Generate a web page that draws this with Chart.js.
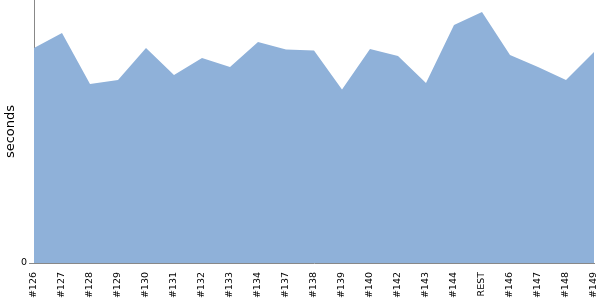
<!DOCTYPE html>
<html>
<head>
<meta charset="utf-8">
<script src="https://cdn.jsdelivr.net/npm/chart.js@4/dist/chart.umd.min.js"></script>
<style>
html,body{margin:0;padding:0;background:#fff;}
#wrap{width:600px;height:300px;position:relative;}
</style>
</head>
<body>
<div id="wrap"><canvas id="c" width="600" height="300"></canvas></div>
<script>
const categories = ["#126","#127","#128","#129","#130","#131","#132","#133","#134","#137","#138","#139","#140","#142","#143","#144","REST","#146","#147","#148","#149"];
const seconds = [204.4,218.6,170.2,174.0,204.4,178.7,194.9,186.3,210.1,202.9,202.0,164.9,203.4,196.8,171.1,226.2,238.6,197.7,186.3,174.0,200.6];
const yTicks = [0];
const yMax = 250;

new Chart(document.getElementById('c'), {
  type: 'line',
  data: {
    labels: categories,
    datasets: [{
      data: seconds,
      fill: 'origin',
      backgroundColor: 'rgb(143,177,217)',
      borderColor: 'rgb(143,177,217)',
      borderWidth: 0,
      pointRadius: 0,
      tension: 0
    }]
  },
  options: {
    responsive: false,
    animation: false,
    layout: {padding: 0},
    plugins: {legend: {display: false}, tooltip: {enabled: false}},
    scales: {
      x: {
        offset: false,
        grid: {display: false},
        border: {display: true, color: '#888888', width: 1},
        ticks: {
          autoSkip: false,
          maxRotation: 90,
          minRotation: 90,
          color: '#000',
          padding: 1,
          font: {family: 'DejaVu Sans', size: 9.5}
        },
        afterFit: (s) => { s.height = 37; s.paddingLeft = 0; s.paddingRight = 6; }
      },
      y: {
        min: 0,
        max: yMax,
        grid: {display: true, drawOnChartArea: false, drawTicks: true, tickLength: 5, color: '#888888'},
        border: {display: true, color: '#888888', width: 1},
        afterBuildTicks: (s) => { s.ticks = yTicks.map(v => ({value: v})); },
        ticks: {
          color: '#000',
          padding: 2,
          font: {family: 'DejaVu Sans', size: 9.5}
        },
        title: {
          display: true,
          text: 'seconds',
          color: '#000',
          padding: {top: 3, bottom: 0},
          font: {family: 'DejaVu Sans', size: 13}
        },
        afterFit: (s) => { s.width = 34; s.paddingTop = 0; s.paddingBottom = 0; }
      }
    }
  }
});
</script>
</body>
</html>
